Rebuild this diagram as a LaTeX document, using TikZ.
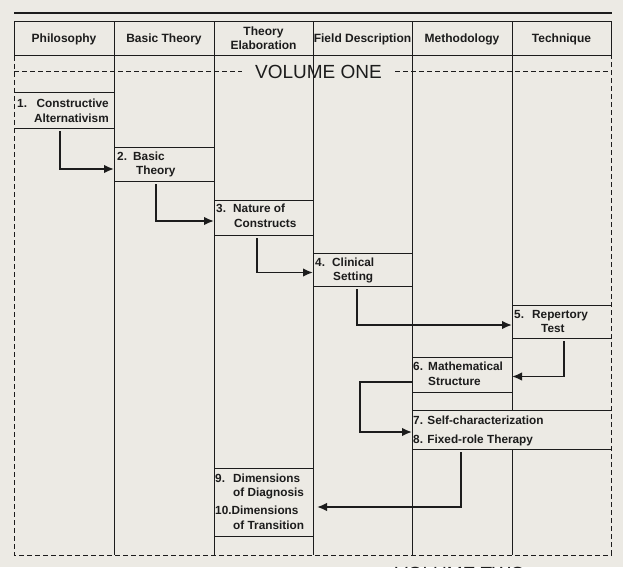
\documentclass[tikz,border=0pt]{standalone}
\usepackage{fontspec}
\setmainfont{Liberation Sans}
\usetikzlibrary{arrows.meta}
\definecolor{bg}{RGB}{236,234,228}
\definecolor{ink}{RGB}{28,28,28}
\begin{document}
\begin{tikzpicture}[x=1pt,y=-1pt,
  grid/.style={draw=ink, line width=1pt},
  dashline/.style={draw=ink, line width=1pt, dash pattern=on 5pt off 3pt},
  box/.style={draw=none, inner sep=0pt, outer sep=0pt},
  btxt/.style={anchor=base west, inner sep=0pt, text=ink, font=\bfseries\fontsize{11.8}{14}\selectfont},
  htxt/.style={inner sep=0pt, align=center, text=ink, font=\bfseries\fontsize{12}{14}\selectfont},
  voltxt/.style={inner sep=0pt, text=ink, font=\fontsize{19}{21}\selectfont},
  arr/.style={draw=ink, line width=1.7pt, shorten <=3pt, -{Latex[length=10pt,width=8.5pt]}}
]
\useasboundingbox (0,0) rectangle (623,567);
\clip (0,0) rectangle (623,567);
\fill[bg] (0,0) rectangle (623,567);

% top rule
\draw[draw=ink, line width=2pt] (14,13) -- (612,13);

% header
\draw[grid] (14,22) rectangle (611,56);
\node[htxt] (h1) at (64,39) {Philosophy};
\node[htxt] (h2) at (164,39) {Basic Theory};
\node[htxt] (h3) at (263.5,38) {Theory\\Elaboration};
\node[htxt] (h4) at (362.5,39) {Field Description};
\node[htxt] (h5) at (462,39) {Methodology};
\node[htxt] (h6) at (561.5,39) {Technique};

% column dividers
\foreach \x in {114,214,313,412} \draw[grid] (\x,22) -- (\x,555);
\draw[grid] (512,22) -- (512,410);
\draw[grid] (512,449) -- (512,555);

% outer dashed frame of the body
\draw[dashline] (14,56) -- (14,555) -- (611,555) -- (611,56);

% volume one
\draw[dashline] (14,72) -- (242,72);
\draw[dashline] (395,72) -- (611,72);
\node[voltxt] (v1) at (318.5,72) {VOLUME ONE};
\node[voltxt, anchor=base west] (v2) at (395,580) {VOLUME TWO};

% boxes
\node[box, minimum width=100pt, minimum height=35pt] (b1) at (64,110.5) {};
\node[box, minimum width=100pt, minimum height=34pt] (b2) at (164,164) {};
\node[box, minimum width=99pt, minimum height=35pt] (b3) at (263.5,217.5) {};
\node[box, minimum width=99pt, minimum height=33pt] (b4) at (362.5,269.5) {};
\node[box, minimum width=99pt, minimum height=33pt] (b5) at (561.5,321.5) {};
\node[box, minimum width=100pt, minimum height=35pt] (b6) at (462,374.5) {};
\node[box, minimum width=199pt, minimum height=39pt] (b78) at (511.5,429.5) {};
\node[box, minimum width=99pt, minimum height=68pt] (b910) at (263.5,502) {};
\foreach \b in {b1,b2,b3,b4,b5,b6,b78,b910}
  \draw[grid] (\b.north west) -- (\b.north east) (\b.south west) -- (\b.south east);

% box texts
\node[btxt] (t1n) at (17,107.5) {1.};
\node[btxt, anchor=base east] (t1a) at (109,107.5) {Constructive};
\node[btxt, anchor=base east] (t1b) at (109,122.5) {Alternativism};

\node[btxt] (t2n) at (117,160.5) {2.};
\node[btxt] (t2a) at (133,160.5) {Basic};
\node[btxt] (t2b) at (136,174.5) {Theory};

\node[btxt] (t3n) at (216,212.5) {3.};
\node[btxt] (t3a) at (233,212.5) {Nature of};
\node[btxt] (t3b) at (234,227.5) {Constructs};

\node[btxt] (t4n) at (315,266.5) {4.};
\node[btxt] (t4a) at (332,266.5) {Clinical};
\node[btxt] (t4b) at (333,280.5) {Setting};

\node[btxt] (t5n) at (514,318.5) {5.};
\node[btxt] (t5a) at (532,318.5) {Repertory};
\node[btxt] (t5b) at (541,332.5) {Test};

\node[btxt] (t6n) at (413,370.5) {6.};
\node[btxt] (t6a) at (428,370.5) {Mathematical};
\node[btxt] (t6b) at (428,385.5) {Structure};

\node[btxt] (t7) at (413,424.5) {7. Self-characterization};
\node[btxt] (t8) at (413,443.5) {8. Fixed-role Therapy};

\node[btxt] (t9n) at (215,482.5) {9.};
\node[btxt] (t9a) at (233,482.5) {Dimensions};
\node[btxt] (t9b) at (233,496.5) {of Diagnosis};
\node[btxt] (t10a) at (215,514.5) {10.Dimensions};
\node[btxt] (t10b) at (233,529.5) {of Transition};

% arrows
\draw[arr] ([xshift=46pt]b1.south west) |- ([yshift=-5pt]b2.west);
\draw[arr] ([xshift=42pt]b2.south west) |- ([yshift=-3.5pt]b3.west);
\draw[arr] ([xshift=43pt]b3.south west) |- ([yshift=-3pt]b4.west);
\draw[arr] ([xshift=44pt]b4.south west) |- ([yshift=-3.5pt]b5.west);
\draw[arr] ([xshift=52pt]b5.south west) |- ([yshift=-2pt]b6.east);
\draw[arr, shorten <=0pt] ([yshift=-7.5pt]b6.west) -- ++(-52pt,0pt) |- ([yshift=-2.5pt]b78.west);
\draw[arr, shorten >=4pt] ([xshift=49pt]b78.south west) |- ([yshift=-5pt]b910.east);
\end{tikzpicture}
\end{document}
